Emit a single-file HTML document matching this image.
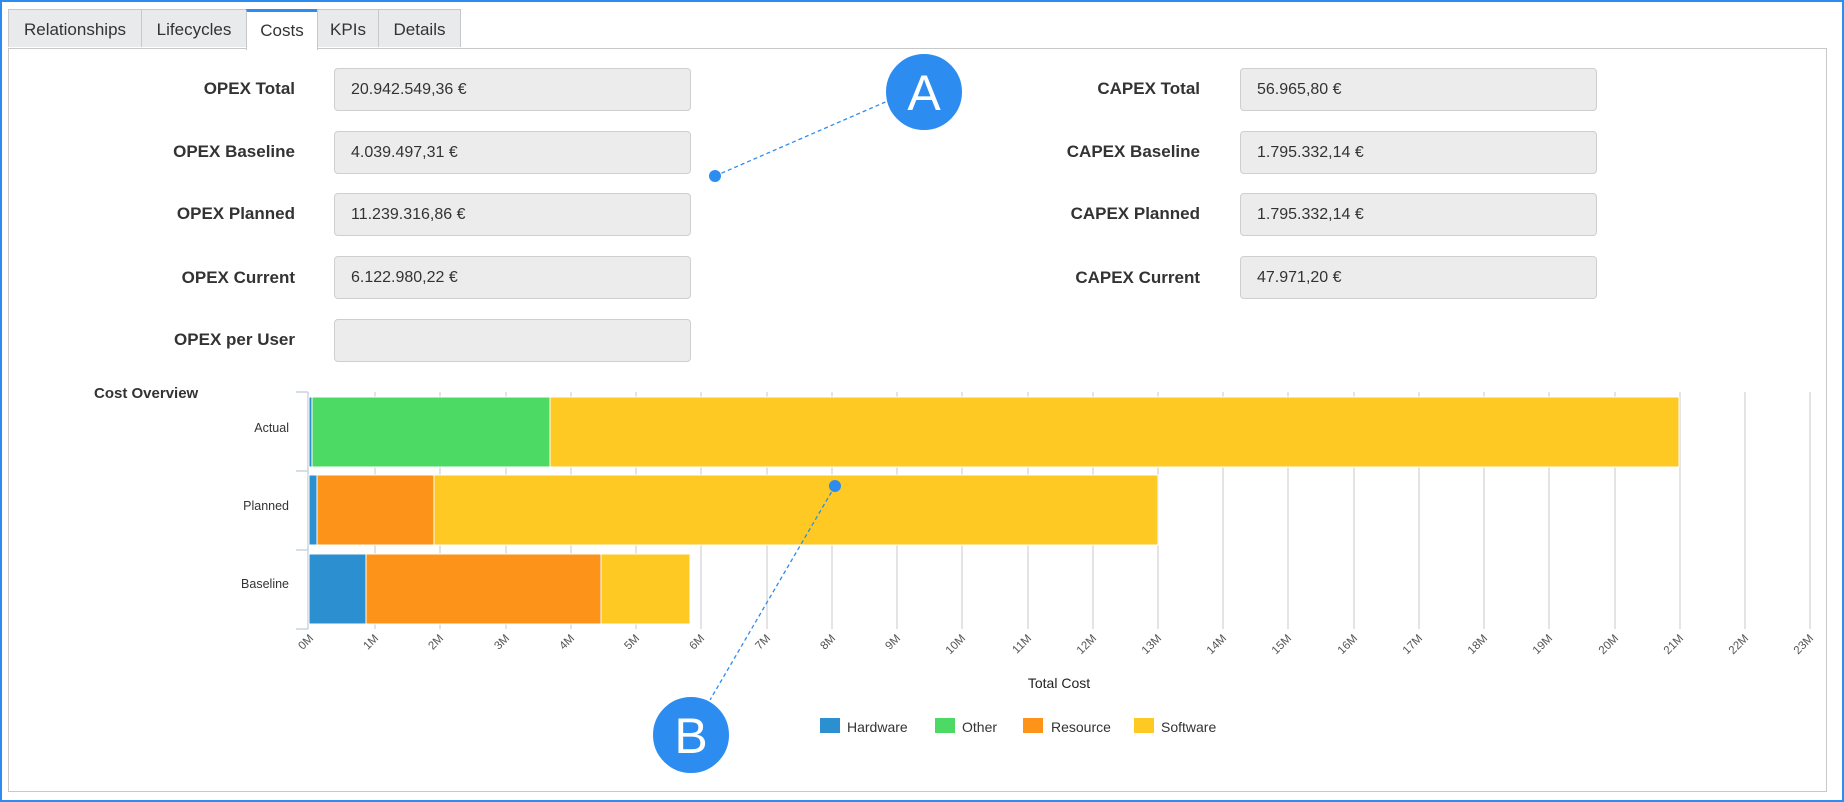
<!DOCTYPE html>
<html><head><meta charset="utf-8"><style>
html,body{margin:0;padding:0;background:#fff;}
body{width:1844px;height:802px;position:relative;overflow:hidden;font-family:"Liberation Sans",Arial,sans-serif;}
.frame{position:absolute;left:0;top:0;width:1840px;height:798px;border:2px solid #2d8cf0;}
.panel{position:absolute;left:8px;top:48px;width:1817px;height:742px;border:1px solid #c8c8c8;}
.tab{position:absolute;top:9px;height:38px;background:#e9eaec;border:1px solid #c8c8c8;border-bottom:none;font-size:17px;color:#333;line-height:40px;text-align:center;box-sizing:border-box;}
.tab.act{background:#fff;border-top:3px solid #2d8cf0;height:41px;line-height:37px;}
.lbl{position:absolute;font-size:17px;font-weight:bold;color:#333;text-align:right;width:220px;}
.box{position:absolute;width:357px;height:43px;background:#ececec;border:1px solid #cfcfcf;border-radius:4px;box-sizing:border-box;font-size:16px;color:#333;line-height:41px;padding-left:16px;}
</style></head><body>
<div class="frame"></div>
<div class="panel"></div>
<div class="tab" style="left:8px;width:134px">Relationships</div>
<div class="tab" style="left:141px;width:106px">Lifecycles</div>
<div class="tab act" style="left:246px;width:72px">Costs</div>
<div class="tab" style="left:317px;width:62px">KPIs</div>
<div class="tab" style="left:378px;width:83px">Details</div>

<div class="lbl" style="left:75px;top:79px">OPEX Total</div>
<div class="lbl" style="left:75px;top:142px">OPEX Baseline</div>
<div class="lbl" style="left:75px;top:204px">OPEX Planned</div>
<div class="lbl" style="left:75px;top:268px">OPEX Current</div>
<div class="lbl" style="left:75px;top:330px">OPEX per User</div>
<div class="box" style="left:334px;top:68px">20.942.549,36 €</div>
<div class="box" style="left:334px;top:131px">4.039.497,31 €</div>
<div class="box" style="left:334px;top:193px">11.239.316,86 €</div>
<div class="box" style="left:334px;top:256px">6.122.980,22 €</div>
<div class="box" style="left:334px;top:319px"></div>

<div class="lbl" style="left:980px;top:79px">CAPEX Total</div>
<div class="lbl" style="left:980px;top:142px">CAPEX Baseline</div>
<div class="lbl" style="left:980px;top:204px">CAPEX Planned</div>
<div class="lbl" style="left:980px;top:268px">CAPEX Current</div>
<div class="box" style="left:1240px;top:68px">56.965,80 €</div>
<div class="box" style="left:1240px;top:131px">1.795.332,14 €</div>
<div class="box" style="left:1240px;top:193px">1.795.332,14 €</div>
<div class="box" style="left:1240px;top:256px">47.971,20 €</div>

<div style="position:absolute;left:94px;top:385px;font-size:15px;font-weight:bold;color:#333">Cost Overview</div>

<svg width="1844" height="802" style="position:absolute;left:0;top:0" font-family="Liberation Sans, Arial, sans-serif">
<g stroke="#dcdcdc" stroke-width="1.5">
<line x1="375" y1="392" x2="375" y2="629"/><line x1="440" y1="392" x2="440" y2="629"/><line x1="506" y1="392" x2="506" y2="629"/><line x1="571" y1="392" x2="571" y2="629"/><line x1="636" y1="392" x2="636" y2="629"/><line x1="701" y1="392" x2="701" y2="629"/><line x1="767" y1="392" x2="767" y2="629"/><line x1="832" y1="392" x2="832" y2="629"/><line x1="897" y1="392" x2="897" y2="629"/><line x1="962" y1="392" x2="962" y2="629"/><line x1="1028" y1="392" x2="1028" y2="629"/><line x1="1093" y1="392" x2="1093" y2="629"/><line x1="1158" y1="392" x2="1158" y2="629"/><line x1="1223" y1="392" x2="1223" y2="629"/><line x1="1288" y1="392" x2="1288" y2="629"/><line x1="1354" y1="392" x2="1354" y2="629"/><line x1="1419" y1="392" x2="1419" y2="629"/><line x1="1484" y1="392" x2="1484" y2="629"/><line x1="1549" y1="392" x2="1549" y2="629"/><line x1="1615" y1="392" x2="1615" y2="629"/><line x1="1680" y1="392" x2="1680" y2="629"/><line x1="1745" y1="392" x2="1745" y2="629"/><line x1="1810" y1="392" x2="1810" y2="629"/>
</g>
<g stroke="#c9d3e0" stroke-width="1.5" fill="none">
<line x1="308" y1="392" x2="308" y2="629"/>
<line x1="296" y1="392" x2="308" y2="392"/><line x1="296" y1="471" x2="308" y2="471"/><line x1="296" y1="550" x2="308" y2="550"/><line x1="296" y1="629" x2="308" y2="629"/>
</g>
<g stroke="#fff" stroke-width="1">
<rect x="309" y="397" width="3" height="70" fill="#2b8fd0"/>
<rect x="312" y="397" width="238" height="70" fill="#4cd964"/>
<rect x="550" y="397" width="1129" height="70" fill="#fec923"/>
<rect x="309" y="475" width="8" height="70" fill="#2b8fd0"/>
<rect x="317" y="475" width="117" height="70" fill="#fd9419"/>
<rect x="434" y="475" width="724" height="70" fill="#fec923"/>
<rect x="309" y="554" width="57" height="70" fill="#2b8fd0"/>
<rect x="366" y="554" width="235" height="70" fill="#fd9419"/>
<rect x="601" y="554" width="89" height="70" fill="#fec923"/>
</g>
<g font-size="12.5" fill="#333" text-anchor="end">
<text x="289" y="432">Actual</text>
<text x="289" y="510">Planned</text>
<text x="289" y="588">Baseline</text>
</g>
<g font-size="11.5" fill="#555" text-anchor="end">
<text transform="translate(314,639) rotate(-45)">0M</text><text transform="translate(379,639) rotate(-45)">1M</text><text transform="translate(444,639) rotate(-45)">2M</text><text transform="translate(510,639) rotate(-45)">3M</text><text transform="translate(575,639) rotate(-45)">4M</text><text transform="translate(640,639) rotate(-45)">5M</text><text transform="translate(705,639) rotate(-45)">6M</text><text transform="translate(771,639) rotate(-45)">7M</text><text transform="translate(836,639) rotate(-45)">8M</text><text transform="translate(901,639) rotate(-45)">9M</text><text transform="translate(966,639) rotate(-45)">10M</text><text transform="translate(1032,639) rotate(-45)">11M</text><text transform="translate(1097,639) rotate(-45)">12M</text><text transform="translate(1162,639) rotate(-45)">13M</text><text transform="translate(1227,639) rotate(-45)">14M</text><text transform="translate(1292,639) rotate(-45)">15M</text><text transform="translate(1358,639) rotate(-45)">16M</text><text transform="translate(1423,639) rotate(-45)">17M</text><text transform="translate(1488,639) rotate(-45)">18M</text><text transform="translate(1553,639) rotate(-45)">19M</text><text transform="translate(1619,639) rotate(-45)">20M</text><text transform="translate(1684,639) rotate(-45)">21M</text><text transform="translate(1749,639) rotate(-45)">22M</text><text transform="translate(1814,639) rotate(-45)">23M</text>
</g>
<text x="1059" y="688" font-size="14" fill="#222" text-anchor="middle">Total Cost</text>
<g font-size="14" fill="#333">
<rect x="820" y="718" width="20" height="15" fill="#2b8fd0"/><text x="847" y="732">Hardware</text>
<rect x="935" y="718" width="20" height="15" fill="#4cd964"/><text x="962" y="732">Other</text>
<rect x="1023" y="718" width="20" height="15" fill="#fd9419"/><text x="1051" y="732">Resource</text>
<rect x="1134" y="718" width="20" height="15" fill="#fec923"/><text x="1161" y="732">Software</text>
</g>
<g stroke="#2d8cf0" stroke-width="1.3" stroke-dasharray="4,3">
<line x1="715" y1="176" x2="890" y2="100"/>
<line x1="835" y1="486" x2="710" y2="700"/>
</g>
<g fill="#2d8cf0">
<circle cx="715" cy="176" r="6"/><circle cx="835" cy="486" r="6"/>
<circle cx="924" cy="92" r="39" stroke="#fff" stroke-width="2"/>
<circle cx="691" cy="735" r="39" stroke="#fff" stroke-width="2"/>
</g>
<g fill="#fff" font-size="50" text-anchor="middle">
<text x="924" y="110">A</text><text x="691" y="753">B</text>
</g>
</svg>
</body></html>
